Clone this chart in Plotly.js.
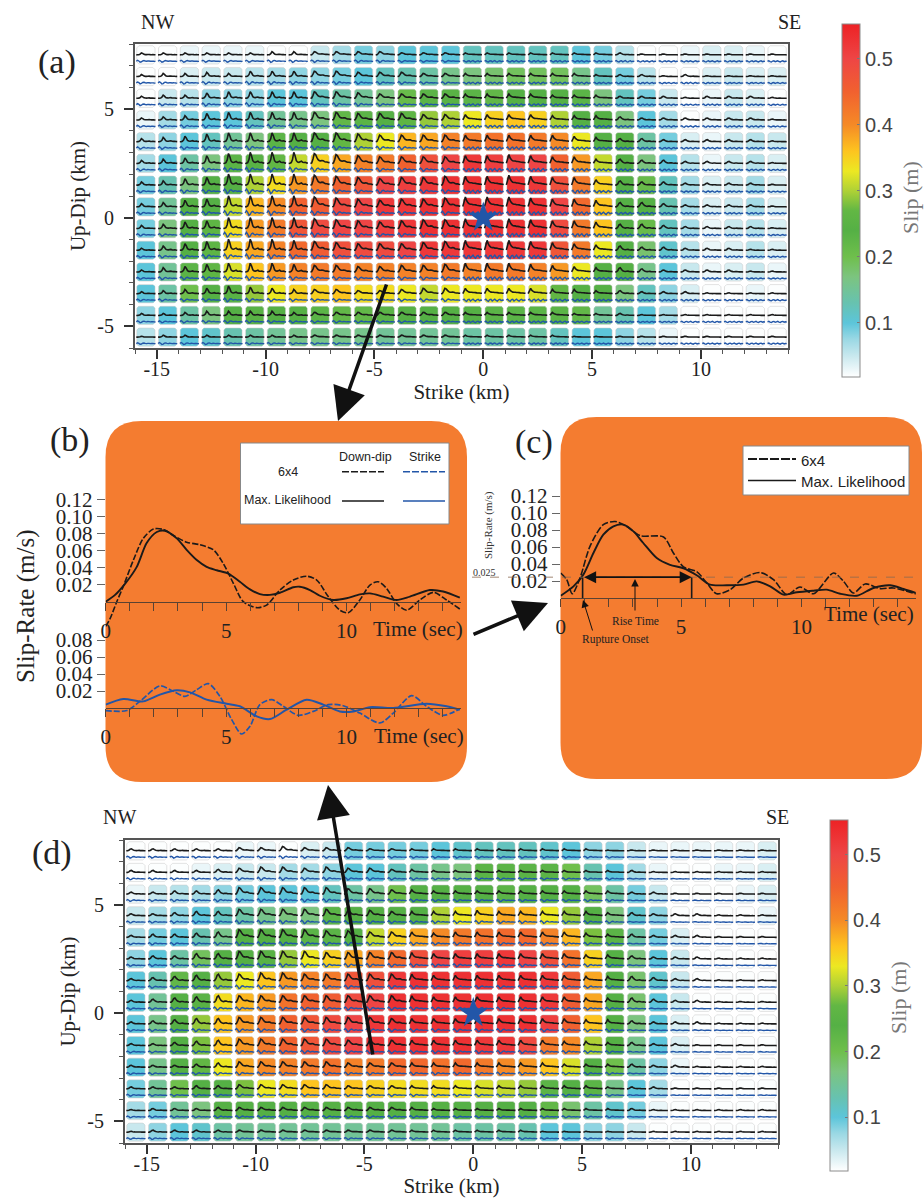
<!DOCTYPE html>
<html><head><meta charset="utf-8">
<script src="https://cdn.plot.ly/plotly-3.0.1.min.js"></script>
<style>html,body{margin:0;padding:0;background:#fff}#p{width:924px;height:1198px}</style></head>
<body><div id="p"></div>
<script>
// ---------- slip in centimetres, top row first, west to east ----------
const slipA = [
[2,2,3,3,3,3,2,2,5,7,9,8,10,10,10,12,12,12,12,12,10,9,6,2,2,3,4,4,3,2],
[2,2,4,5,5,6,7,8,8,9,10,12,13,14,16,17,18,19,19,19,16,12,9,6,2,2,4,5,4,4],
[2,5,6,8,8,8,10,10,12,14,15,17,21,23,25,23,22,24,24,24,23,17,12,9,5,2,3,5,4,2],
[3,7,9,10,10,12,15,16,17,22,23,24,26,29,30,33,35,36,35,30,24,24,17,10,7,2,3,5,5,3],
[6,8,10,12,15,17,23,24,24,27,30,33,37,38,41,42,43,43,42,40,33,24,24,14,9,4,3,5,6,5],
[7,10,14,17,23,25,27,31,35,38,41,42,45,48,50,52,51,50,50,45,39,31,24,17,10,6,3,5,6,4],
[9,13,17,24,24,30,34,39,42,45,47,50,51,52,53,53,53,53,52,48,42,35,24,21,12,7,4,5,7,4],
[9,15,24,24,31,37,40,45,46,49,50,52,52,53,53,53,53,53,53,50,44,36,24,24,13,7,4,5,7,4],
[9,17,24,26,34,39,42,47,49,50,50,51,52,53,53,53,53,53,53,49,42,36,24,21,12,7,3,5,6,4],
[10,16,24,26,35,38,41,44,46,48,49,49,50,52,52,52,52,52,52,47,42,33,24,18,11,6,3,4,6,4],
[10,15,23,26,32,36,39,41,42,42,41,41,41,41,42,41,42,42,41,39,33,24,24,16,10,5,3,4,5,3],
[10,14,20,24,25,29,33,35,35,36,34,34,33,31,33,33,33,33,32,27,24,24,17,12,8,4,2,2,3,2],
[8,10,14,17,24,25,24,24,23,22,22,23,24,24,24,24,23,23,23,23,22,15,13,10,7,2,2,2,2,2],
[6,8,10,11,13,14,15,16,16,16,16,15,15,15,15,14,14,14,14,12,10,10,8,6,3,2,2,2,2,2]];
const slipD = [
[2,2,2,2,2,3,3,2,4,5,9,9,9,9,10,11,12,12,12,11,10,8,8,5,3,3,3,3,3,4],
[2,2,2,3,4,5,5,7,7,8,10,10,12,14,16,17,23,23,23,23,20,13,10,7,3,2,2,3,3,4],
[3,5,6,7,8,9,10,10,10,12,14,16,20,24,24,24,24,23,24,24,24,19,14,9,5,2,2,2,3,4],
[5,7,8,10,12,14,16,17,17,23,24,24,24,24,30,33,35,38,37,33,29,24,17,11,8,2,2,2,2,3],
[7,9,10,13,16,24,24,24,23,23,24,31,35,38,40,42,43,44,44,41,37,28,23,14,9,4,2,2,2,2],
[8,10,14,19,24,24,25,29,33,35,38,41,44,48,50,51,51,52,50,48,43,35,24,17,10,5,2,2,2,2],
[10,13,22,24,29,33,36,39,41,42,47,48,52,53,53,53,53,53,53,52,46,38,24,18,11,5,2,2,2,2],
[10,15,24,25,34,37,39,43,45,46,49,50,53,53,53,53,53,53,53,52,46,38,24,18,10,5,2,2,2,2],
[10,16,24,29,36,39,42,45,47,49,50,52,53,53,53,53,53,53,53,51,45,36,24,17,10,4,2,2,2,2],
[10,17,24,28,36,39,42,45,47,49,50,52,53,53,53,53,52,52,49,42,40,30,24,16,10,4,2,2,2,2],
[10,16,24,27,33,38,40,41,42,43,41,42,44,44,43,44,42,40,39,36,32,24,20,14,8,3,2,2,2,2],
[9,15,20,24,24,28,33,34,36,36,36,35,34,34,34,33,32,31,29,23,24,23,16,10,7,2,2,2,2,2],
[7,9,15,17,24,24,24,24,24,24,24,24,24,24,24,24,24,24,24,22,18,14,11,9,3,2,2,2,2,2],
[5,8,10,11,14,15,15,15,15,15,15,15,15,15,15,14,14,14,13,10,10,8,8,5,2,2,2,2,2,2]];
// peak height of the down-dip trace in each tile, one digit per tile
const peakA = [
"111111222222111111111110000000","122324444433322222222111010000",
"122455555543333333322211101110","123566666655544444433321111110",
"234677777765555555554322111110","234689998765555667655332211110",
"235699998765667778766432211110","235699998765667888766533211110",
"235699998765677888766533211110","135799987655567888765432211100",
"134677765544556777654332111100","123465433322344444433221110000",
"112333322222222222221110000000","011111111111111111110000000000"];
const peakD = [
"111112232221111111111100000000","111123443433221111111111000000",
"112235555544332222222221100000","112335555544333343333322111000",
"122346666554443444444322111000","122446666555554444444332111000",
"123455665555554444444333211000","123455555555554444444333211000",
"123445555555444444444332111000","112345555544444444443322110000",
"111234444433333333332222110000","111223333322222222222211100000",
"011122222222221111111111000000","011111111111111111100000000000"];
// which waveform each column shows
const shapeColsA = "SSSSSSSSBBBBBBBEEEEEEEPPPPPPPP";
const shapeColsD = "PPPPPBBBBBBBBEEEEEEEEEEPPPPPPP";
const stripColsA = "DDDDDDDDDDDDDDDRRRRRRRRRRRRRRR";
const stripColsD = "DDDDDDDDDDDDDDDDDDDDDDDFFFFFFF";
// waveforms (fraction of the peak)
const waveSharp  = [0,.02,.08,.35,1,.7,.25,.12,.1,.15,.2,.1,.08,.1,.05,.02];
const waveBroad  = [0,.05,.45,1,.9,.62,.38,.28,.26,.3,.28,.18,.14,.14,.1,.08];
const waveEarly  = [.03,.5,1,.62,.42,.3,.27,.27,.22,.22,.2,.16,.14,.12,.1,.08];
const wavePlain  = [0,.04,.3,.85,1,.6,.3,.18,.12,.18,.2,.12,.08,.1,.06,.03];
const stripDip   = [.1,.7,.25,-.5,-.25,.35,.5,.2,.05,.25,.2,.05,.15,.12,.05,0];
const stripRipple= [.1,.45,-.2,-.45,.25,.4,-.3,.1,.45,-.1,-.4,.2,.4,-.2,.1,0];
const stripFlat  = [0,.2,.4,.3,.1,0,.1,.25,.2,.05,0,.1,.15,.1,.05,0];
// panel (b), slip-rate curves
const tDipML =  [0,.39,.8,1.29,1.7,2.12,2.46,2.95,3.36,3.78,4.19,4.61,5.09,5.57,5.99,6.4,6.82,7.23,7.79,8.06,8.48,8.89,9.45,10,10.55,10.97,11.52,12.07,12.63,13.46,14.01,14.7];
const vDipML =  [0,.008,.021,.041,.069,.082,.0835,.0745,.061,.049,.041,.037,.033,.0235,.0145,.009,.008,.0105,.017,.0176,.0137,.007,.002,.004,.0086,.0098,.006,.002,.006,.0137,.012,.0047];
const tDip6x4 = [0,.18,.46,.73,1.15,1.56,1.98,2.39,2.81,3.36,3.91,4.47,4.88,5.3,5.71,6.27,6.68,7.23,7.79,8.34,8.76,9.24,9.72,10.07,10.55,10.97,11.31,11.66,12.07,12.49,13.04,13.6,14.15,14.7];
const vDip6x4 = [-.029,-.02,0,.018,.049,.0745,.0855,.085,.078,.07,.067,.061,.045,.0216,0,-.007,-.004,.0137,.0255,.03,.0255,.006,-.01,-.013,.002,.0196,.0235,.0157,-.002,-.01,.002,.011,.002,-.0086];
const tStrML =  [0,.73,1.56,2.25,2.95,3.5,4.19,5.02,5.57,6.27,6.82,7.51,8.34,9.03,9.72,10.28,10.97,11.94,13.32,14.15,14.7];
const vStrML =  [.004,.0106,.0078,.0157,.0208,.0184,.0098,.005,.002,-.0098,-.013,-.002,.0098,.004,-.004,-.004,.001,0,.005,.002,-.002];
const tStr6x4 = [0,.87,1.42,2.25,2.81,3.29,3.78,4.26,4.74,5.23,5.64,5.99,6.4,6.89,7.37,7.99,8.62,9.24,9.86,10.55,11.38,11.94,12.7,13.32,14.01,14.7];
const vStr6x4 = [-.003,-.003,.0078,.026,.0196,.0137,.0216,.0286,.0137,-.0137,-.0306,-.0216,.004,.0098,.002,-.0086,-.004,.004,.0027,-.006,-.0176,-.006,.0145,.002,-.0086,-.001];
// panel (c), slip-rate curves
const tCML =  [0,.53,.94,1.36,1.77,2.19,2.6,3.02,3.43,3.99,4.54,5.1,5.65,6.2,6.9,7.59,8.14,8.7,9.25,9.81,10.5,11.05,11.61,12.3,12.99,13.68,14.24,14.75];
const vCML =  [.0027,.0137,.0275,.053,.0745,.0843,.0863,.0784,.0647,.047,.039,.035,.0267,.0157,.015,.0157,.0196,.0137,.004,.0067,.0086,.0098,.005,.0027,.0118,.015,.0106,.0059];
const tC6x4 = [0,.25,.48,.8,1.22,1.77,2.26,2.74,3.3,4.27,4.68,5.1,5.65,6.07,6.48,7.04,7.59,8.28,8.84,9.39,9.94,10.5,11.33,11.75,12.16,12.65,13.27,13.82,14.75];
const vC6x4 = [.0294,.0216,.005,.0235,.061,.0863,.09,.0843,.0733,.0718,.053,.0365,.031,.0176,.005,.0098,.0235,.03,.0216,.004,.013,.005,.0294,.0196,.0059,.0165,.011,.0118,.0047];
const ruptureOnset = .91, riseEnd = 5.44, riseLevel = .0245;
// tick labels
const strikeTicks = [-15,-10,-5,0,5,10], strikeLabels = ["-15","-10","-5","0","5","10"];
const dipTicks = [-5,0,5], dipLabels = ["-5","0","5"];
const timeTicks = [0,1,2,3,4,5,6,7,8,9,10,11,12,13,14];
const timeLabels = ["0","","","","","5","","","","","10","","","",""];
const rateTicksTop = [.02,.04,.06,.08,.1,.12];
const rateLabelsTop = ["0.02","0.04","0.06","0.08","0.10","0.12"];
const rateTicksLow = [.02,.04,.06,.08];
const rateLabelsLow = ["0.02","0.04","0.06","0.08"];
const cbTicks = [.1,.2,.3,.4,.5];
const hypocentre = {x:[0],y:[0]};
const slipScale = [[0,"#ffffff"],[.06,"#c8e8ee"],[.107,"#9ad8e4"],[.153,"#5cc5da"],[.209,"#67c2b0"],[.284,"#7cc47f"],[.34,"#6fbf4c"],[.415,"#55b045"],[.471,"#62b744"],[.527,"#aed136"],[.583,"#ece822"],[.64,"#fdc41f"],[.714,"#f58a26"],[.808,"#f1612f"],[.902,"#ee4545"],[1,"#ed2225"]];

// ---------- helpers ----------
const W=924,H=1198, SERIF="Liberation Serif", SANS="Liberation Sans";
const fx=p=>p/W, fy=p=>1-p/H;
const dx=(a,b)=>[fx(a),fx(b)], dy=(top,bot)=>[fy(bot),fy(top)];
const BLACK="#1a1a1a", BLUE="#2256a8", FRAME="#555555";
const waveOf={S:waveSharp,B:waveBroad,E:waveEarly,P:wavePlain};
const stripOf={D:stripDip,R:stripRipple,F:stripFlat};
const xEdges=[...Array(30).keys()].map(i=>-16+i), yTop=[...Array(14).keys()].map(i=>8-i);

function tiles(slip,peak,shapeCols,stripCols,xa,ya,cb){
  const t=[];
  const rev=[...slip].reverse().map(r=>r.map(v=>v/100));
  t.push({type:"heatmap",x:xEdges.map(v=>v+.5),y:[...yTop].reverse().map(v=>v-.5),z:rev,xaxis:xa,yaxis:ya,
    zmin:.018,zmax:.553,colorscale:slipScale,hoverinfo:"skip",colorbar:cb});
  const sx=[],sy=[],mx=[],my=[],gx=[],gy=[],kx=[],ky=[],bx=[],by=[];
  // white gutters along the cell borders
  for(let c=0;c<=30;c++){sx.push(-16+c,-16+c,null);sy.push(-6,8,null);}
  for(let r=0;r<=14;r++){sx.push(-16,14,null);sy.push(-6+r,-6+r,null);}
  const ring=(ins,ch,c,r)=>{
    const x0=xEdges[c]+ins,x1=xEdges[c]+1-ins,y1=yTop[r]-ins,y0=yTop[r]-1+ins;
    return [[x0+ch,x1-ch,x1,x1,x1-ch,x0+ch,x0,x0,x0+ch],[y1,y1,y1-ch,y0+ch,y0,y0,y0+ch,y1-ch,y1]];
  };
  const m=.06;
  slip.forEach((row,r)=>row.forEach((_,c)=>{
    const a=ring(.04,.1,c,r), b=ring(.08,.1,c,r);
    mx.push(...a[0],null);my.push(...a[1],null);gx.push(...b[0],null);gy.push(...b[1],null);
    const w=waveOf[shapeCols[c]],s=stripOf[stripCols[c]];
    const pk=+peak[r][c]*.052+.04;
    const ampS=.05+pk*.25;
    w.forEach((v,i)=>{kx.push(xEdges[c]+m+(1-2*m)*i/(w.length-1));ky.push(yTop[r]-.5+v*pk);});
    kx.push(null);ky.push(null);
    s.forEach((v,i)=>{bx.push(xEdges[c]+m+(1-2*m)*i/(s.length-1));by.push(yTop[r]-.8+v*ampS);});
    bx.push(null);by.push(null);
  }));
  const ln=(x,y,color,width,name)=>({type:"scatter",mode:"lines",x,y,xaxis:xa,yaxis:ya,line:{color,width,simplify:false},hoverinfo:"skip",name,showlegend:false});
  t.push(ln(sx,sy,"#ffffff",3,"gutter"));
  t.push(ln(mx,my,"#ffffff",1.8,"tile corner"));
  t.push(ln(gx,gy,"rgba(200,200,200,.65)",.8,"tile edge"));
  t.push(ln(kx,ky,BLACK,1.6,"Down-dip"));
  t.push(ln(bx,by,BLUE,1.4,"Strike"));
  t.push({type:"scatter",mode:"markers",x:hypocentre.x,y:hypocentre.y,xaxis:xa,yaxis:ya,marker:{symbol:"star",size:23,color:BLUE,line:{width:0}},hoverinfo:"skip",showlegend:false});
  return t;
}
function curve(x,y,xa,ya,color,dash,width){
  return {type:"scatter",mode:"lines",x,y,xaxis:xa,yaxis:ya,line:{color,dash,width,shape:"spline",smoothing:.8},hoverinfo:"skip",showlegend:false};
}
const cbar=(x,top,bot)=>({x:fx(x),xanchor:"left",xref:"paper",y:fy(bot),yanchor:"bottom",yref:"paper",len:(bot-top)/H,lenmode:"fraction",
  thickness:18,thicknessmode:"pixels",xpad:0,ypad:0,outlinecolor:"#8c8c8c",outlinewidth:1,ticks:"inside",ticklen:3,tickcolor:"#777",
  tickmode:"array",tickvals:cbTicks,ticktext:cbTicks.map(v=>v.toFixed(1)),tickfont:{family:SANS,size:20,color:"#444"}});

const data=[
  ...tiles(slipA,peakA,shapeColsA,stripColsA,"x","y",cbar(842,24,377)),
  ...tiles(slipD,peakD,shapeColsD,stripColsD,"x5","y5",cbar(830,820,1171)),
  curve(tDipML,vDipML,"x2","y2",BLACK,"solid",1.9),
  curve(tDip6x4,vDip6x4,"x2","y2",BLACK,"6px,2px",1.6),
  curve(tStrML,vStrML,"x3","y3",BLUE,"solid",2),
  curve(tStr6x4,vStr6x4,"x3","y3",BLUE,"6px,2px",1.7),
  curve(tCML,vCML,"x4","y4",BLACK,"solid",1.9),
  curve(tC6x4,vC6x4,"x4","y4",BLACK,"7px,2px",1.6),
  {type:"scatter",mode:"lines",x:[ruptureOnset,ruptureOnset,null,riseEnd,riseEnd],y:[0,riseLevel,null,0,riseLevel],xaxis:"x4",yaxis:"y4",line:{color:BLACK,width:1.6},hoverinfo:"skip",showlegend:false}
];

const mapX=(dom,anchor,title,standoff)=>({domain:dom,anchor,range:[-16,14],tickmode:"array",tickvals:strikeTicks,ticktext:strikeLabels,
  showline:true,mirror:true,linecolor:FRAME,linewidth:2,ticks:"outside",ticklen:9,tickwidth:2,tickcolor:"#333",showgrid:false,zeroline:false,ticklabelstandoff:-7,
  minor:{tickmode:"linear",tick0:0,dtick:1,ticks:"outside",ticklen:4,tickwidth:1,tickcolor:FRAME,showgrid:false},
  tickfont:{family:SERIF,size:20,color:"#222"},title:{text:title,font:{family:SERIF,size:21,color:"#222"},standoff}});
const mapY=(dom,anchor,title,standoff)=>({domain:dom,anchor,range:[-6,8],tickmode:"array",tickvals:dipTicks,ticktext:dipLabels,
  showline:true,mirror:true,linecolor:FRAME,linewidth:2,ticks:"outside",ticklen:9,tickwidth:2,tickcolor:"#333",showgrid:false,zeroline:false,ticklabelstandoff:6,
  minor:{tickmode:"linear",tick0:0,dtick:1,ticks:"outside",ticklen:4,tickwidth:1,tickcolor:FRAME,showgrid:false},
  tickfont:{family:SERIF,size:20,color:"#222"},title:{text:title,font:{family:SERIF,size:21,color:"#222"},standoff}});
const timeX=(dom,anchor,linePx)=>({domain:dom,anchor:"free",position:fy(linePx),range:[0,14.75],tickmode:"array",tickvals:timeTicks,ticktext:timeLabels,
  showline:true,linecolor:"#5a4232",linewidth:1.2,ticks:"outside",ticklen:8,tickwidth:1,tickcolor:"#5a4232",showgrid:false,zeroline:false,
  ticklabelstandoff:2,tickfont:{family:SERIF,size:21,color:"#222"}});
const rateY=(dom,anchor,range,vals,labs)=>({domain:dom,anchor,range,tickmode:"array",tickvals:vals,ticktext:labs,
  showline:false,ticks:"outside",ticklen:8,tickwidth:1,tickcolor:"#666",showgrid:false,zeroline:false,tickfont:{family:SERIF,size:21,color:"#222"}});

function rounded(x0,y0,x1,y1,r){
  const X=fx,Y=fy;
  return `M${X(x0+r)},${Y(y0)} L${X(x1-r)},${Y(y0)} Q${X(x1)},${Y(y0)} ${X(x1)},${Y(y0+r)} L${X(x1)},${Y(y1-r)} Q${X(x1)},${Y(y1)} ${X(x1-r)},${Y(y1)} L${X(x0+r)},${Y(y1)} Q${X(x0)},${Y(y1)} ${X(x0)},${Y(y1-r)} L${X(x0)},${Y(y0+r)} Q${X(x0)},${Y(y0)} ${X(x0+r)},${Y(y0)} Z`;
}
const pShape=(o)=>Object.assign({xref:"paper",yref:"paper"},o);
const seg=(x0,y,x1,color,dash,width)=>pShape({type:"line",x0:fx(x0),x1:fx(x1),y0:fy(y),y1:fy(y),line:{color,dash,width},layer:"above"});
const ORANGE="#F47C30";
const shapes=[
  pShape({type:"path",path:rounded(105.5,421,467,782,36),fillcolor:ORANGE,line:{width:0},layer:"below"}),
  pShape({type:"path",path:rounded(560.5,417,922,779,36),fillcolor:ORANGE,line:{width:0},layer:"below"}),
  pShape({type:"rect",x0:fx(240.5),x1:fx(449),y0:fy(443),y1:fy(524),fillcolor:"#fff",line:{color:"#888",width:1},layer:"below"}),
  seg(342,471.7,384,BLACK,"7px,2px",1.5),seg(403,471.7,445,BLUE,"7px,2px",1.5),
  seg(342,501,384,BLACK,"solid",1.6),seg(403,501,445,BLUE,"solid",1.6),
  pShape({type:"rect",x0:fx(743),x1:fx(909),y0:fy(446),y1:fy(495),fillcolor:"#fff",line:{color:"#888",width:1},layer:"below"}),
  seg(748,459,796,BLACK,"9px,2px",1.8),seg(748,480.5,796,BLACK,"solid",1.6),
  {type:"line",xref:"paper",yref:"y4",x0:fx(472),x1:fx(915),y0:riseLevel,y1:riseLevel,line:{color:"#8a6a50",dash:"dash",width:.8},layer:"above"}
];
const txt=(s,x,y,size,o={})=>Object.assign({xref:"paper",yref:"paper",x:fx(x),y:fy(y),text:s,showarrow:false,xanchor:"center",yanchor:"middle",
  font:{family:SERIF,size,color:"#222"}},o);
const arrow=(x0,y0,x1,y1,width,size)=>({xref:"paper",yref:"paper",x:fx(x1),y:fy(y1),ax:x0-x1,ay:y0-y1,axref:"pixel",ayref:"pixel",text:"",showarrow:true,
  arrowhead:2,arrowsize:size,arrowwidth:width,arrowcolor:"#111"});
const annotations=[
  txt("(a)",57,62,34),txt("(b)",70,440,34),txt("(c)",534,442,34),txt("(d)",52,853,34),
  txt("NW",157,22,20),txt("SE",789,22,20),txt("NW",119,817,20),txt("SE",777,817,20),
  txt("Slip (m)",910,198,22,{textangle:-90,font:{family:SERIF,size:22,color:"#777"}}),
  txt("Slip (m)",898,998,22,{textangle:-90,font:{family:SERIF,size:22,color:"#777"}}),
  txt("Slip-Rate (m/s)",26,607,25,{textangle:-90}),
  txt("Time (sec)",418,629,21),txt("Time (sec)",419,736,21),txt("Time (sec)",869,614,21),
  txt("Down-dip",365,457,12.5,{font:{family:SANS,size:12.5,color:"#222"}}),
  txt("Strike",425,457,12.5,{font:{family:SANS,size:12.5,color:"#222"}}),
  txt("6x4",288,472,12.5,{font:{family:SANS,size:12.5,color:"#222"}}),
  txt("Max. Likelihood",287,500,12.5,{font:{family:SANS,size:12.5,color:"#222"}}),
  txt("6x4",798.5,460,15,{xanchor:"left",font:{family:SANS,size:15,color:"#222"}}),
  txt("Max. Likelihood",798.5,482,15,{xanchor:"left",font:{family:SANS,size:15,color:"#222"}}),
  txt("Slip-Rate (m/s)",488,525,11,{textangle:-90,font:{family:SERIF,size:11,color:"#333"}}),
  txt("0.025",485,572,10,{font:{family:SERIF,size:10,color:"#333"}}),
  txt("Rise Time",635,621,11.5,{font:{family:SERIF,size:11.5,color:"#222"}}),
  txt("Rupture Onset",616,639,11.5,{font:{family:SERIF,size:11.5,color:"#222"}}),
  {xref:"x4",yref:"y4",x:riseEnd,y:riseLevel,ax:ruptureOnset,ay:riseLevel,axref:"x4",ayref:"y4",text:"",showarrow:true,arrowside:"end+start",arrowhead:2,arrowsize:1.5,arrowwidth:1.6,arrowcolor:"#111"},
  arrow(635,612,635,579,1,1.5),
  arrow(593,632,583,600,1,1.5),
  arrow(387,283,338,421,3.5,1.9),
  arrow(373,1056,328,785,3.5,1.9),
  arrow(472,635,548,603,3.5,1.9)
];

const layout={width:W,height:H,margin:{l:0,r:0,t:0,b:0},paper_bgcolor:"#fff",plot_bgcolor:"rgba(0,0,0,0)",showlegend:false,shapes,annotations,
  xaxis:mapX(dx(135,788),"y","Strike (km)",2),yaxis:mapY(dy(44,348),"x","Up-Dip (km)",6),
  xaxis5:mapX(dx(125,778),"y5","Strike (km)",2),yaxis5:mapY(dy(840,1143),"x5","Up-Dip (km)",6),
  xaxis2:timeX(dx(105.7,461),"y2",601.7),yaxis2:rateY(dy(491.2,627.2),"x2",[-.03,.13],rateTicksTop,rateLabelsTop),
  xaxis3:timeX(dx(105.7,461),"y3",708),yaxis3:rateY(dy(631.5,742),"x3",[-.04,.09],rateTicksLow,rateLabelsLow),
  xaxis4:timeX(dx(560.7,915.8),"y4",598),yaxis4:rateY(dy(487.5,606.5),"x4",[-.01,.13],rateTicksTop,rateLabelsTop)
};
Plotly.newPlot("p",data,layout,{staticPlot:true,displayModeBar:false});
</script></body></html>
